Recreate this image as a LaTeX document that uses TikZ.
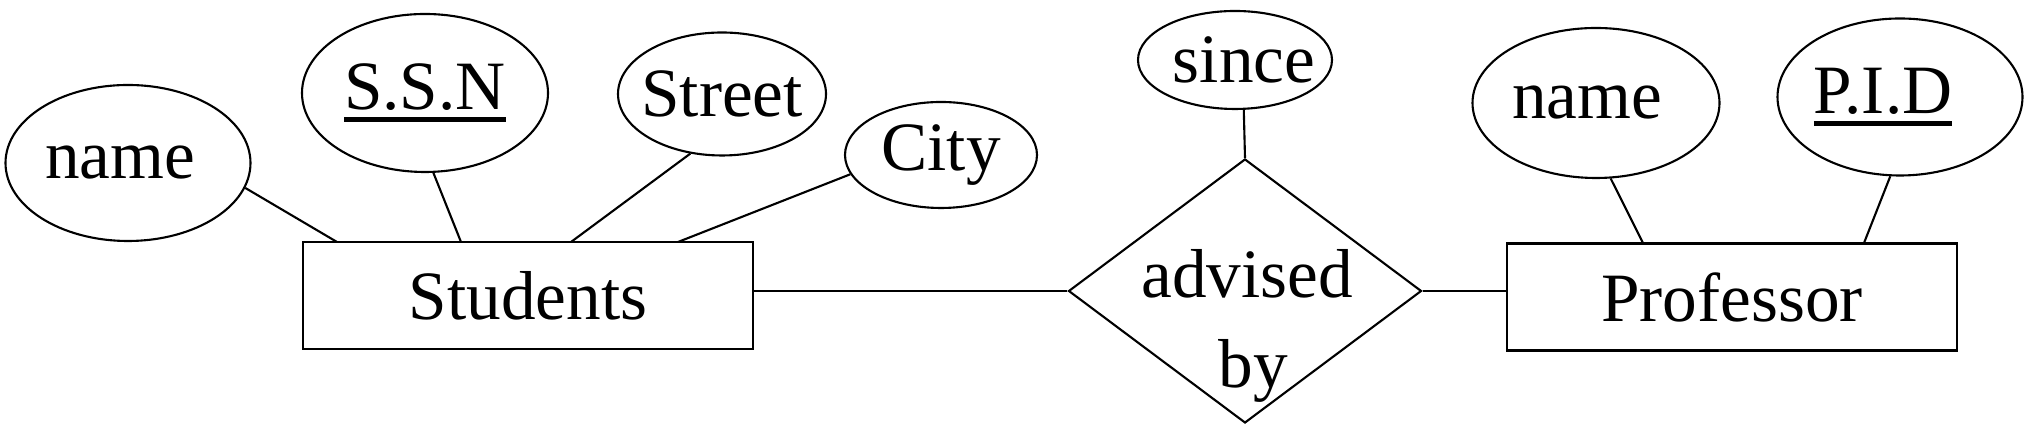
\documentclass[tikz,border=0pt]{standalone}
\usepackage{fontspec}
\setmainfont{Liberation Serif}
\usetikzlibrary{shapes.geometric,calc}
\newcommand\keyul[1]{\setbox0\hbox{#1}\rlap{\rule[-3.7pt]{\wd0}{1.4pt}}\box0}
\newcommand\zbox[1]{\makebox[0pt]{#1}}
\begin{document}
\begin{tikzpicture}[
  line width=0.6pt,
  every node/.style={font=\fontsize{19.7}{25.6}\selectfont},
  attr/.style={draw, ellipse, inner sep=0pt},
  entity/.style={draw, rectangle, inner sep=0pt, minimum width=4.50cm, minimum height=1.07cm},
  rel/.style={draw, diamond, inner sep=0pt, minimum width=3.53cm, minimum height=2.64cm}
]
\useasboundingbox (0,0) rectangle (20.26,4.28);

% entities
\node[entity] (st) at (5.28,1.325) {Students};
\node[entity] (pr) at (17.32,1.31) {Professor};
% relationship
\node[rel] (dm) at (12.45,1.37) {};
\node[align=center, inner sep=0pt] (dmt) at (12.47,1.02) {advised\\\hspace*{0.13cm}by};

% attributes
\node[attr, minimum width=2.45cm, minimum height=1.56cm] (n1) at (1.28,2.65) {\zbox{name\hspace{0.16cm}}};
\node[attr, minimum width=2.46cm, minimum height=1.58cm] (ssn) at (4.25,3.35) {\zbox{\keyul{S.S.N}}};
\node[attr, minimum width=2.08cm, minimum height=1.23cm] (str) at (7.22,3.34) {\zbox{Street}};
\node[attr, minimum width=1.92cm, minimum height=1.06cm] (cty) at (9.41,2.73) {\zbox{City}};
\node[attr, minimum width=1.94cm, minimum height=0.98cm] (snc) at (12.35,3.68) {\zbox{\hspace{0.18cm}since}};
\node[attr, minimum width=2.47cm, minimum height=1.50cm] (n2) at (15.96,3.25) {\zbox{name\hspace{0.18cm}}};
\node[attr, minimum width=2.45cm, minimum height=1.57cm] (pid) at (19.00,3.31) {\zbox{\keyul{P.I.D}\hspace{0.34cm}}};

% attachment points on entity tops
\coordinate (c1) at (3.37,1.86);
\coordinate (c2) at (4.61,1.86);
\coordinate (c3) at (5.71,1.86);
\coordinate (c4) at (6.78,1.86);
\coordinate (c5) at (16.43,1.85);
\coordinate (c6) at (18.64,1.85);

% connectors
\draw (n1.-12.5) -- (c1);
\draw (ssn.-84) -- (c2);
\draw (str.-118) -- (c3);
\draw (cty.-168) -- (c4);
\draw (snc.-80) -- (dm.north);
\draw (dm.west) -- (dm.west -| st.east);
\draw (dm.east) -- (dm.east -| pr.west);
\draw (n2.-79) -- (c5);
\draw (pid.-97) -- (c6);
\end{tikzpicture}
\end{document}
